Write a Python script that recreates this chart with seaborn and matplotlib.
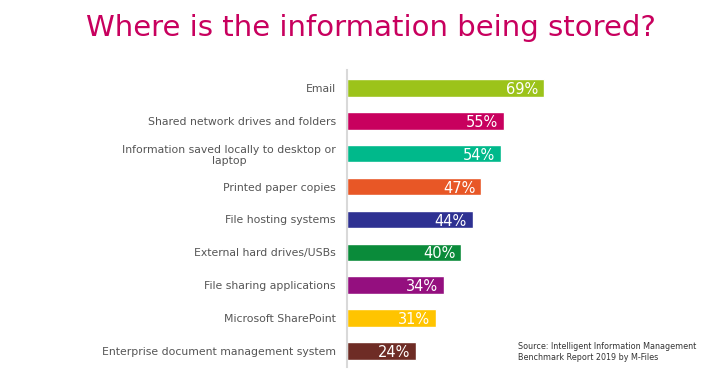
import matplotlib
matplotlib.use("Agg")
import matplotlib.pyplot as plt
import seaborn as sns
import pandas as pd

categories = [
    "Email",
    "Shared network drives and folders",
    "Information saved locally to desktop or\nlaptop",
    "Printed paper copies",
    "File hosting systems",
    "External hard drives/USBs",
    "File sharing applications",
    "Microsoft SharePoint",
    "Enterprise document management system",
]
values = [69, 55, 54, 47, 44, 40, 34, 31, 24]
colors = ["#9CC31A", "#C8005E", "#00B98B", "#E85726", "#2E3192",
          "#0A8B3A", "#940F7F", "#FFC400", "#6E2C25"]

df = pd.DataFrame({"cat": categories, "val": values})

sns.set_theme(style="white")
plt.rcParams["font.family"] = ["DejaVu Sans"]

fig = plt.figure(figsize=(7.2, 3.77), dpi=100)
left = 347 / 720
px_per_pct = 197 / 69
right = 0.97
ax = fig.add_axes([left, 1 - 367 / 377, right - left, (367 - 70) / 377])

sns.barplot(data=df, x="val", y="cat", hue="cat", palette=colors,
            legend=False, width=0.53, ax=ax, orient="h", saturation=1)

ax.set_xlim(0, (right - left) * 720 / px_per_pct)
ax.set_ylim(8.49, -0.55)
ax.set_xlabel("")
ax.set_ylabel("")
ax.set_xticks([])
for s in ["top", "right", "bottom"]:
    ax.spines[s].set_visible(False)
ax.spines["left"].set_color("#d9d9d9")
ax.spines["left"].set_linewidth(1.5)
ax.tick_params(axis="y", length=0, pad=8, labelsize=7.8, labelcolor="#555555")
for lbl in ax.get_yticklabels():
    lbl.set_multialignment("center")

for i, v in enumerate(values):
    ax.text(v - 2.0, i + 0.05, f"{v}%", ha="right", va="center",
            color="white", fontsize=10.5)

fig.text(371 / 720, 0.925, "Where is the information being stored?", ha="center",
         va="center", color="#C8005E", fontsize=21)

fig.text(518 / 720, 1 - 352 / 377,
         "Source: Intelligent Information Management\nBenchmark Report 2019 by M-Files",
         ha="left", va="center", fontsize=5.8, color="#333333", linespacing=1.15)

fig.savefig("out.png", dpi=100)
